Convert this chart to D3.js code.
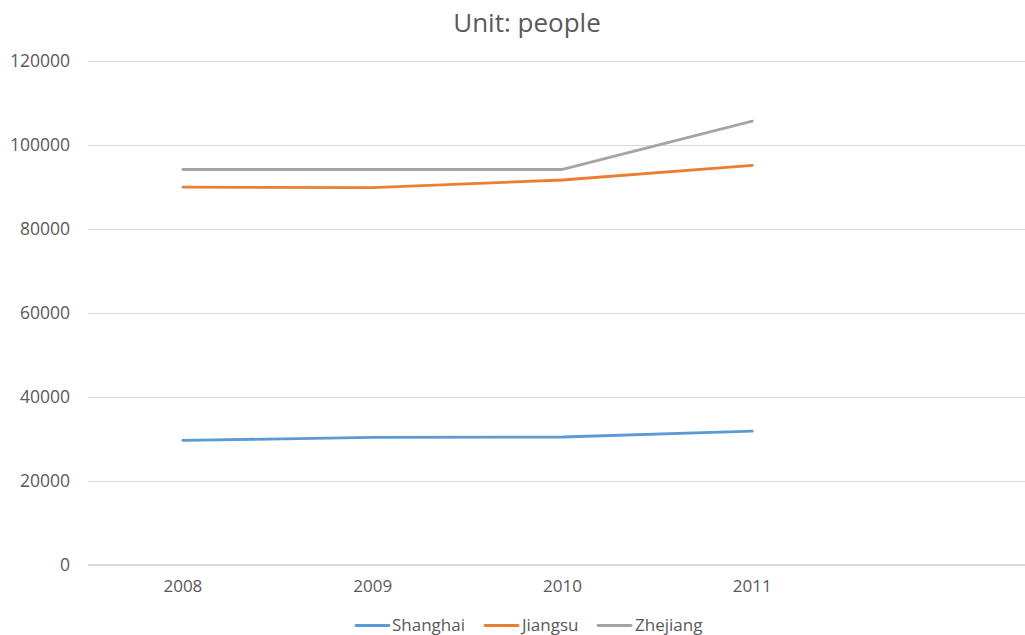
<!DOCTYPE html>
<html>
<head>
<meta charset="utf-8">
<script src="https://cdn.jsdelivr.net/npm/d3@7"></script>
<style>
  html, body { margin: 0; padding: 0; background: #fff; }
  svg { display: block; }
  text { font-family: "Open Sans", "Noto Sans", sans-serif; fill: #595959; }
</style>
</head>
<body>
<svg id="chart" width="1025" height="635"></svg>
<script>
// Data
const categories = ["2008", "2009", "2010", "2011", ""];
const years = ["2008", "2009", "2010", "2011"];
const seriesNames = ["Shanghai", "Jiangsu", "Zhejiang"];
const shanghai = [29600, 30300, 30400, 31800];
const jiangsu = [89900, 89800, 91600, 95100];
const zhejiang = [94100, 94100, 94100, 105600];
const yTicks = [0, 20000, 40000, 60000, 80000, 100000, 120000];
const colors = ["#5b9bd5", "#ed7d31", "#a5a5a5"];
const title = "Unit: people";

const series = [
  { name: seriesNames[0], values: shanghai, color: colors[0] },
  { name: seriesNames[1], values: jiangsu, color: colors[1] },
  { name: seriesNames[2], values: zhejiang, color: colors[2] }
];

const svg = d3.select("#chart");
const plotLeft = 88, plotTop = 60.7, plotBottom = 564.7;
const step = 189.8;
const FONT = "'Open Sans', 'Noto Sans', sans-serif";

const x = d3.scaleBand().domain(categories).range([plotLeft, plotLeft + step * categories.length]).padding(0);
const y = d3.scaleLinear().domain([0, 120000]).range([plotBottom, plotTop]);

// Title
svg.append("text")
  .attr("x", 527).attr("y", 22)
  .attr("text-anchor", "middle")
  .attr("dominant-baseline", "central")
  .style("font-size", "26px")
  .text(title);

// Gridlines
const yAxis = d3.axisLeft(y).tickValues(yTicks).tickSize(-(1025 - plotLeft)).tickFormat(d => d).tickPadding(18);
const gy = svg.append("g").attr("transform", `translate(${plotLeft},0)`).call(yAxis);
gy.select(".domain").remove();
gy.selectAll(".tick line").attr("stroke", "#d9d9d9").attr("stroke-width", 1)
  .attr("shape-rendering", "crispEdges");
gy.selectAll(".tick").filter(d => d === 0).select("line").attr("stroke", "#d9d9d9").attr("stroke-width", 2);
gy.selectAll(".tick text").style("font-size", "17.5px").attr("fill", "#595959")
  .style("font-family", FONT);

// X axis labels
const xAxis = d3.axisBottom(x).tickSize(0).tickPadding(15);
const gx = svg.append("g").attr("transform", `translate(0,${plotBottom})`).call(xAxis);
gx.select(".domain").remove();
gx.selectAll(".tick text").style("font-size", "17px").attr("fill", "#595959")
  .style("font-family", FONT);

// Lines
const line = d3.line()
  .x((d, i) => x(years[i]) + x.bandwidth() / 2)
  .y(d => y(d));

svg.append("g").selectAll("path").data(series).join("path")
  .attr("fill", "none")
  .attr("stroke", d => d.color)
  .attr("stroke-width", 2.8)
  .attr("stroke-linecap", "round")
  .attr("stroke-linejoin", "round")
  .attr("d", d => line(d.values));

// Legend
const legendItems = [
  { lineX: 356, textX: 392 },
  { lineX: 485, textX: 522 },
  { lineX: 598, textX: 635 }
];
const lg = svg.append("g");
const items = lg.selectAll("g").data(series).join("g");
items.append("line")
  .attr("x1", (d, i) => legendItems[i].lineX)
  .attr("x2", (d, i) => legendItems[i].lineX + 33)
  .attr("y1", 625.5).attr("y2", 625.5)
  .attr("stroke", d => d.color).attr("stroke-width", 2.8)
  .attr("stroke-linecap", "round");
items.append("text")
  .attr("x", (d, i) => legendItems[i].textX)
  .attr("y", 624.5)
  .attr("dominant-baseline", "central")
  .style("font-size", "17px")
  .text(d => d.name);
</script>
</body>
</html>
